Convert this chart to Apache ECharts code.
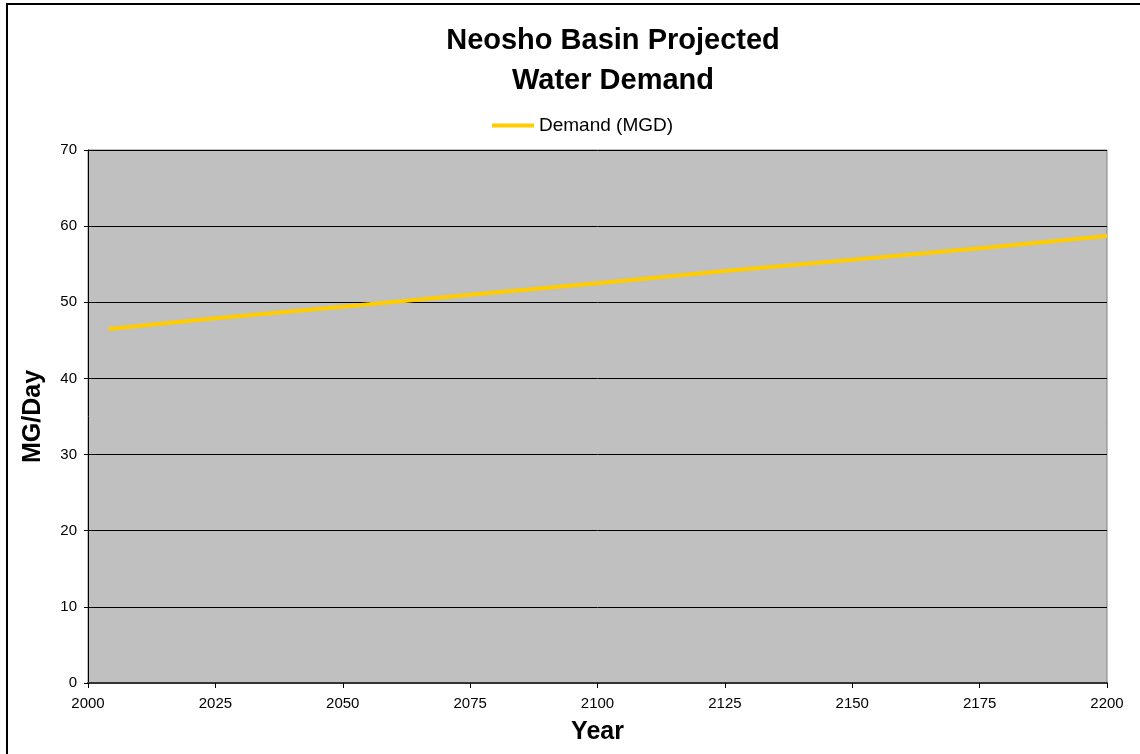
<!DOCTYPE html>
<html lang="en">
<head>
    <meta charset="UTF-8">
    <title>Neosho Basin Projected Water Demand</title>
    <script src="https://cdn.jsdelivr.net/npm/echarts@6/dist/echarts.min.js"></script>
    <style>
        html, body { margin: 0; padding: 0; background: #fff; overflow: hidden; }
        #frame {
            position: absolute; left: 6px; top: 3px;
            width: 1150px; height: 770px;
            border: 2px solid #000;
        }
        #chartContainer { position: absolute; left: 0; top: 0; width: 1140px; height: 754px; }
    </style>
</head>
<body>
    <div id="frame"></div>
    <div id="chartContainer"></div>
    <script>
        // values
        const years = [2004, 2025, 2050, 2075, 2100, 2125, 2150, 2175, 2200];
        const demand = [46.5, 47.9, 49.4, 51.0, 52.5, 54.1, 55.6, 57.1, 58.7];
        const seriesName = 'Demand (MGD)';

        const chart = echarts.init(document.getElementById('chartContainer'));
        const font = 'Arial, "Liberation Sans", sans-serif';

        const option = {
            animation: false,
            title: {
                text: 'Neosho Basin Projected\nWater Demand',
                left: 608,
                textAlign: 'center',
                top: 16,
                textStyle: {
                    fontFamily: font,
                    fontSize: 29,
                    fontWeight: 'bold',
                    color: '#000',
                    lineHeight: 40
                }
            },
            legend: {
                data: [seriesName],
                top: 111,
                left: 487,
                itemWidth: 42,
                itemHeight: 4,
                itemGap: 4,
                icon: 'rect',
                textStyle: { fontFamily: font, fontSize: 19, color: '#000' }
            },
            grid: {
                left: 88,
                right: 33,
                top: 150,
                bottom: 71,
                show: true,
                backgroundColor: '#C0C0C0',
                borderColor: '#808080',
                borderWidth: 1
            },
            xAxis: {
                type: 'value',
                min: 2000,
                max: 2200,
                interval: 25,
                name: 'Year',
                nameLocation: 'middle',
                nameGap: 37,
                nameTextStyle: { fontFamily: font, fontSize: 25, fontWeight: 'bold', color: '#000' },
                axisLine: { lineStyle: { color: '#333', width: 2 } },
                axisTick: { show: true, length: 5, lineStyle: { color: '#000' } },
                axisLabel: {
                    fontFamily: font, fontSize: 15, color: '#000', margin: 13,
                    formatter: v => String(v)
                },
                splitLine: { show: false }
            },
            yAxis: {
                type: 'value',
                min: 0,
                max: 70,
                interval: 10,
                name: 'MG/Day',
                nameLocation: 'middle',
                nameGap: 42,
                nameRotate: 90,
                nameTextStyle: { fontFamily: font, fontSize: 25, fontWeight: 'bold', color: '#000' },
                axisLine: { show: true, lineStyle: { color: '#000', width: 1 } },
                axisTick: { show: true, length: 4, lineStyle: { color: '#000' } },
                axisLabel: { fontFamily: font, fontSize: 15, color: '#000', margin: 11 },
                splitLine: { show: true, lineStyle: { color: '#000', width: 1 } }
            },
            series: [
                {
                    name: seriesName,
                    type: 'line',
                    data: years.map((y, i) => [y, demand[i]]),
                    showSymbol: false,
                    itemStyle: { color: '#FFCC00' },
                    lineStyle: { color: '#FFCC00', width: 4 }
                }
            ]
        };

        chart.setOption(option);
    </script>
</body>
</html>
